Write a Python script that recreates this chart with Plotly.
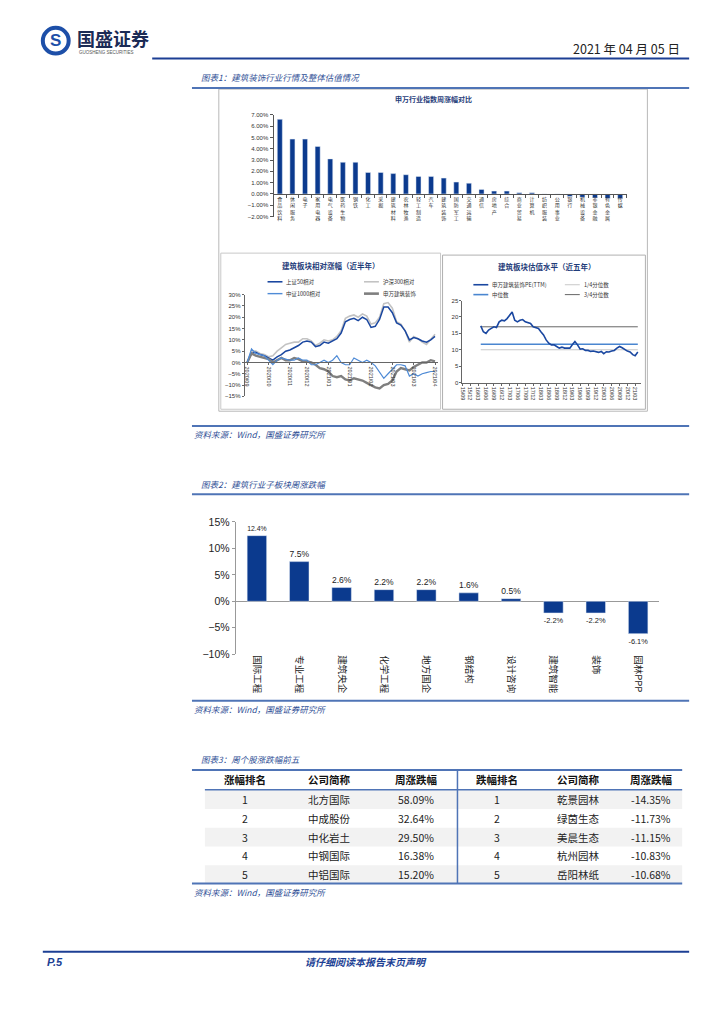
import plotly.graph_objects as go
import pandas as pd

# page is rendered with the browser's default 8px body margin -> figure placed at (8,8)
OFF = 8
W, H = 724 - 2 * OFF, 1024 - 2 * OFF
def X(p): return (p - OFF) / W
def Y(p): return 1 - (p - OFF) / H

# ---------------- data ----------------
sw_names = ["食品饮料", "休闲服务", "电子", "家用电器", "电气设备", "医药生物", "钢铁", "化工",
            "采掘", "建筑材料", "农林牧渔", "轻工制造", "汽车", "建筑装饰", "国防军工", "交通运输",
            "通信", "房地产", "综合", "商业贸易", "计算机", "纺织服装", "公用事业", "银行",
            "机械设备", "非银金融", "有色金属", "传媒"]
sw_chg = [6.6, 4.85, 4.85, 4.2, 3.1, 2.8, 2.8, 1.9, 1.9, 1.8, 1.7, 1.55, 1.55, 1.4, 1.05, 0.95,
          0.4, 0.25, 0.25, 0.1, 0.1, 0.0, -0.01, -0.22, -0.3, -0.35, -0.4, -0.4]

rel_tickpos = [0, 5, 10, 14, 19, 24, 29, 34, 39, 44]
rel_ticklabels = ["2020/09", "2020/10", "2020/11", "2020/12", "2021/01", "2021/01",
                  "2021/02", "2021/03", "2021/03", "2021/04"]
sz50 = [0, 4, 4.5, 3.5, 3, 2, 1, 2.5, 3.5, 5, 5.5, 6.5, 7.5, 9, 9.5, 9, 7, 7.5, 9, 8.5, 9.5,
        10.5, 13, 18, 19, 19.5, 18.5, 20, 19, 15.5, 16, 19, 24.5, 24.5, 22, 17.5, 16.5, 14,
        10, 11, 10.5, 9.5, 9, 10, 11.5]
hs300 = [0, 5, 5, 4, 3.5, 2.5, 3, 5, 6.5, 8, 8.5, 9, 9, 10.5, 10.5, 9.5, 7.5, 8.5, 10, 9.5, 10,
         11.5, 14, 19.5, 20.5, 21, 20, 21.5, 20.5, 17, 17.5, 20, 26, 26.5, 24, 18, 17, 14, 9,
         11.5, 10.5, 9, 8, 10.5, 12.5]
zz1000 = [0, 6, 4, 3.5, 3, 1, -1, 1, 2, 1.5, 1, 1, 2, 1, 1, -1, -1, 0, 1, 0, 1, 3, 0, -1, -1,
          2, 1, 0, 1, 0, -1.5, -4, -7, -5, -3, -1, -1, -1.5, -6, -5, -6, -5, -4.5, -4, -4]
swjz = [0, 4, 3, 2.5, 2, 1.5, 0, 1, 2, 1, 1, 2, 1.5, 0.5, 0.5, 0, -1, -2.5, -3, -4, -6, -6.5,
        -6, -7.5, -8, -7, -7.5, -8, -9, -10, -11, -11.5, -10, -9.5, -8, -4, -2.5, -3, -3.5,
        -2, -1, 0, 0, 1, 0.5]

pe_start = "2016-04-01"
pe_ttm = [17.3, 15.5, 15, 16, 16.5, 17, 16.8, 18.5, 19, 18.8, 19.5, 20.5, 21.5, 19, 18.5, 19,
          19.2, 18.5, 18.2, 18, 17, 16.8, 16.5, 15.5, 14.5, 13, 12, 11.5, 11.5, 11, 10.5, 10.8,
          10.5, 10.5, 10.5, 11.5, 12.5, 11.5, 10.2, 10.3, 9.8, 9.8, 9.5, 9.6, 9.3, 9.2, 9.5,
          8.8, 9.4, 9.3, 9.6, 9.8, 10.5, 11, 10.6, 10, 9.6, 9.3, 8.5, 8.2, 9.3]
pe_q1, pe_median, pe_q3 = 10.0, 11.7, 17.0

sub_names = ["国际工程", "专业工程", "建筑央企", "化学工程", "地方国企", "钢结构", "设计咨询",
             "建筑智能", "装饰", "园林PPP"]
sub_chg = [12.4, 7.5, 2.6, 2.2, 2.2, 1.6, 0.5, -2.2, -2.2, -6.1]

tbl_header = ["涨幅排名", "公司简称", "周涨跌幅", "跌幅排名", "公司简称", "周涨跌幅"]
up_rank = ["1", "2", "3", "4", "5"]
up_name = ["北方国际", "中成股份", "中化岩土", "中钢国际", "中铝国际"]
up_chg = ["58.09%", "32.64%", "29.50%", "16.38%", "15.20%"]
dn_rank = ["1", "2", "3", "4", "5"]
dn_name = ["乾景园林", "绿茵生态", "美晨生态", "杭州园林", "岳阳林纸"]
dn_chg = ["-14.35%", "-11.73%", "-11.15%", "-10.83%", "-10.68%"]

# ---------------- styles ----------------
FONT = "Liberation Sans, Noto Sans CJK SC, sans-serif"
CJK = "Noto Sans CJK SC, sans-serif"
NAVY = "#1C3F94"
STEEL = "#4F74B6"
BAR = "#0B3A8E"
TXTBLUE = "#2F4F96"

fig = go.Figure()

# ---- Figure 1 top: industry bars
fig.add_trace(go.Bar(x=sw_names, y=sw_chg, marker_color=BAR, xaxis="x", yaxis="y",
                     showlegend=False, hoverinfo="skip"))

# ---- Figure 1 bottom-left: relative returns
idx = list(range(len(sz50)))
fig.add_trace(go.Scatter(x=idx, y=hs300, mode="lines", line=dict(color="#C3C3C3", width=1.6),
                         xaxis="x2", yaxis="y2", showlegend=False))
fig.add_trace(go.Scatter(x=idx, y=sz50, mode="lines", line=dict(color="#1A47A0", width=1.5),
                         xaxis="x2", yaxis="y2", showlegend=False))
fig.add_trace(go.Scatter(x=idx, y=swjz, mode="lines", line=dict(color="#7F7F7F", width=2.4),
                         xaxis="x2", yaxis="y2", showlegend=False))
fig.add_trace(go.Scatter(x=idx, y=zz1000, mode="lines", line=dict(color="#4F8BD6", width=1.2),
                         xaxis="x2", yaxis="y2", showlegend=False))

# ---- Figure 1 bottom-right: PE valuation
pe_dates = pd.date_range(pe_start, periods=len(pe_ttm), freq="MS")
span = [pe_dates[0], pe_dates[-1]]
fig.add_trace(go.Scatter(x=span, y=[pe_q1, pe_q1], mode="lines", line=dict(color="#C8C8C8", width=1),
                         xaxis="x3", yaxis="y3", showlegend=False))
fig.add_trace(go.Scatter(x=span, y=[pe_q3, pe_q3], mode="lines", line=dict(color="#666666", width=1),
                         xaxis="x3", yaxis="y3", showlegend=False))
fig.add_trace(go.Scatter(x=span, y=[pe_median, pe_median], mode="lines",
                         line=dict(color="#4A86D0", width=1.5), xaxis="x3", yaxis="y3", showlegend=False))
fig.add_trace(go.Scatter(x=pe_dates, y=pe_ttm, mode="lines", line=dict(color="#1A47A0", width=1.6),
                         xaxis="x3", yaxis="y3", showlegend=False))

# ---- Figure 2: sub-sector bars
fig.add_trace(go.Bar(x=sub_names, y=sub_chg, marker_color=BAR, xaxis="x4", yaxis="y4", width=0.46,
                     text=[f"{v:.1f}%" for v in sub_chg], textposition="outside",
                     textfont=dict(size=10.5, color="#222", family=FONT), cliponaxis=False,
                     showlegend=False, hoverinfo="skip"))

# ---------------- layout / axes ----------------
zero_top = 110 + 7 * (213 - 110) / 9
zero_rel = 292 + 30 * (395 - 292) / 45

layout = dict(
    width=W, height=H, margin=dict(l=0, r=0, t=0, b=0), autosize=False,
    paper_bgcolor="white", plot_bgcolor="rgba(0,0,0,0)",
    font=dict(family=FONT, color="#222"), showlegend=False, bargap=0.6,
    xaxis=dict(domain=[X(272), X(627)], anchor="free", position=Y(zero_top),
               tickvals=sw_names, ticktext=["<br>".join(n) for n in sw_names],
               tickfont=dict(size=5, family=CJK, color="#333"), tickangle=0,
               showline=True, linecolor="#555", linewidth=1, ticks="outside", tickson="boundaries",
               ticklen=3, tickcolor="#555", showgrid=False, fixedrange=True),
    yaxis=dict(domain=[Y(213), Y(110)], range=[-2, 7], dtick=1, tickformat=".2f", ticksuffix="%",
               tickfont=dict(size=6, color="#333"), showline=True, linecolor="#555", ticks="outside",
               ticklen=3, tickcolor="#555", showgrid=False, zeroline=False, anchor="x"),
    xaxis2=dict(domain=[X(243), X(437)], range=[-0.6, 44.6], anchor="free", position=Y(zero_rel),
                tickvals=rel_tickpos, ticktext=rel_ticklabels, tickangle=90,
                tickfont=dict(size=5.5, color="#333"), showline=True, linecolor="#666",
                ticks="outside", ticklen=2, tickcolor="#666", showgrid=False, zeroline=False),
    yaxis2=dict(domain=[Y(395), Y(292)], range=[-15, 30], dtick=5, ticksuffix="%",
                tickfont=dict(size=6, color="#333"), showline=True, linecolor="#666", ticks="outside",
                ticklen=2, tickcolor="#666", showgrid=False, zeroline=False, anchor="x2"),
    xaxis3=dict(domain=[X(462), X(642)], range=["2015-09-01", "2021-05-13"], type="date",
                tick0="2015-09-01", dtick="M3", tickformat="%y/%m", tickangle=90,
                tickfont=dict(size=5.5, color="#333"), showline=True, linecolor="#666",
                ticks="outside", ticklen=2, tickcolor="#666", showgrid=False, anchor="y3"),
    yaxis3=dict(domain=[Y(381), Y(298)], range=[0, 25], dtick=5,
                tickfont=dict(size=6, color="#333"), showline=True, linecolor="#666", ticks="outside",
                ticklen=2, tickcolor="#666", showgrid=False, zeroline=False, anchor="x3"),
    xaxis4=dict(domain=[X(234), X(660)], anchor="y4", tickangle=90,
                tickfont=dict(size=9.5, family=CJK, color="#222"), showline=False, showgrid=False,
                ticks=""),
    yaxis4=dict(domain=[Y(656), Y(522)], range=[-10, 15], dtick=5, ticksuffix="%",
                tickfont=dict(size=10.5, color="#222"), showline=True, linecolor="#999",
                ticks="outside", ticklen=3, tickcolor="#999", showgrid=False,
                zeroline=True, zerolinecolor="#999", zerolinewidth=1, anchor="x4"),
)
fig.update_layout(**layout)

shapes = []
ann = []

def hline(y, x0, x1, color, w):
    shapes.append(dict(type="line", xref="paper", yref="paper", x0=X(x0), x1=X(x1), y0=Y(y), y1=Y(y),
                       line=dict(color=color, width=w)))

def vline(x, y0, y1, color, w):
    shapes.append(dict(type="line", xref="paper", yref="paper", x0=X(x), x1=X(x), y0=Y(y0), y1=Y(y1),
                       line=dict(color=color, width=w)))

def rect(x0, y0, x1, y1, color, w=1, fill="rgba(0,0,0,0)"):
    shapes.append(dict(type="rect", xref="paper", yref="paper", x0=X(x0), x1=X(x1), y0=Y(y1), y1=Y(y0),
                       line=dict(color=color, width=w), fillcolor=fill, layer="below"))

def text(x, y, s, size, color="#222", xa="left", ya="middle", family=FONT):
    ann.append(dict(x=X(x), y=Y(y), xref="paper", yref="paper", text=s, showarrow=False,
                    xanchor=xa, yanchor=ya, font=dict(size=size, color=color, family=family)))

# header
shapes.append(dict(type="circle", xref="paper", yref="paper", x0=X(40), x1=X(66), y0=Y(48), y1=Y(22),
                   line=dict(color="#1D4FA8", width=4), fillcolor="white"))
text(53, 35, "<b>S</b>", 17, "#1D4FA8", "center", "middle")
text(72, 32, "<b>国盛证券</b>", 18, "#1B2B55", "left", "middle", CJK)
text(74, 47, "GUOSHENG SECURITIES", 4.5, "#555", "left", "middle")
text(683, 43, "2021 年 04 月 05 日", 12.5, "#222", "right", "middle", CJK)
hline(53, 150, 690, NAVY, 2)

# figure 1
text(197, 72, "<i>图表1：建筑装饰行业行情及整体估值情况</i>", 8.5, TXTBLUE, "left", "middle", CJK)
hline(83, 190, 690, STEEL, 2)
rect(217, 84, 648, 410, "#B8B8B8", 1)
rect(219, 250, 440, 408, "#C8C8C8", 1)
rect(442, 252, 646, 408, "#B0B0B0", 1)
text(433, 94, "<b>申万行业指数周涨幅对比</b>", 7, "#1F3D7A", "center", "middle", CJK)
text(330, 263, "<b>建筑板块相对涨幅（近半年）</b>", 7.5, "#1F3D7A", "center", "middle", CJK)
text(547, 264, "<b>建筑板块估值水平（近五年）</b>", 7.5, "#1F3D7A", "center", "middle", CJK)

leg1 = [(266, 279, "#1A47A0", 1.6, "上证50相对"), (363, 279, "#C3C3C3", 1.6, "沪深300相对"),
        (266, 291, "#4F8BD6", 1.4, "中证1000相对"), (363, 291, "#7F7F7F", 2.6, "申万建筑装饰")]
for x0, y0, c, w, s in leg1:
    hline(y0, x0, x0 + 15, c, w)
    text(x0 + 17, y0, s, 5.5, "#333", "left", "middle", CJK)
leg2 = [(473, 282, "#1A47A0", 1.6, "申万建筑装饰PE(TTM)"), (565, 282, "#C8C8C8", 1, "1/4分位数"),
        (473, 292, "#4A86D0", 1.6, "中位数"), (565, 292, "#666666", 1, "3/4分位数")]
for x0, y0, c, w, s in leg2:
    hline(y0, x0, x0 + 15, c, w)
    text(x0 + 17, y0, s, 5.5, "#333", "left", "middle", CJK)

hline(425, 190, 690, STEEL, 2)
text(190, 433, "<i>资料来源：Wind，国盛证券研究所</i>", 8.5, TXTBLUE, "left", "middle", CJK)

# figure 2
text(197, 484, "<i>图表2：建筑行业子板块周涨跌幅</i>", 8.5, TXTBLUE, "left", "middle", CJK)
hline(494, 190, 690, STEEL, 2)
hline(703, 190, 690, STEEL, 2)
text(190, 711, "<i>资料来源：Wind，国盛证券研究所</i>", 8.5, TXTBLUE, "left", "middle", CJK)

# figure 3 (table built from the data lists)
text(197, 762, "<i>图表3：周个股涨跌幅前五</i>", 8.5, TXTBLUE, "left", "middle", CJK)
col_x = [243, 328, 415, 497, 579, 652]
hdr_y, row0_y, row_h = 783, 803, 19
columns = [up_rank, up_name, up_chg, dn_rank, dn_name, dn_chg]
for r in range(len(up_rank)):
    yc = row0_y + r * row_h
    if r % 2 == 0:
        rect(203, yc - row_h / 2, 683, yc + row_h / 2, "rgba(0,0,0,0)", 0, "#F2F2F2")
    for c, col in enumerate(columns):
        text(col_x[c], yc, col[r], 10.5, "#222", "center", "middle", CJK)
for c, h in enumerate(tbl_header):
    text(col_x[c], hdr_y, f"<b>{h}</b>", 10.5, "#111", "center", "middle", CJK)
hline(773, 190, 683, STEEL, 2)
hline(793, 203, 683, STEEL, 1.5)
hline(888, 190, 683, STEEL, 2)
vline(457, 773, 888, STEEL, 1.5)
text(190, 897, "<i>资料来源：Wind，国盛证券研究所</i>", 8.5, TXTBLUE, "left", "middle", CJK)

# footer
hline(957, 40, 690, NAVY, 2)
text(42, 967, "<b><i>P.5</i></b>", 11, NAVY, "left", "middle")
text(365, 967, "<b><i>请仔细阅读本报告末页声明</i></b>", 10, NAVY, "center", "middle", CJK)

fig.update_layout(shapes=shapes, annotations=ann)
fig.write_html("out.html")
